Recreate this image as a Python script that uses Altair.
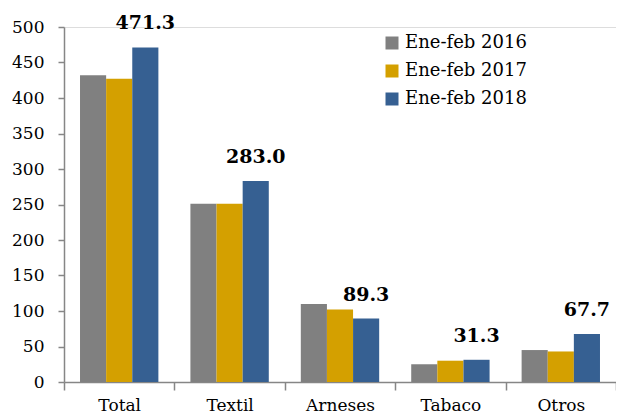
import altair as alt
import pandas as pd

categories = ["Total", "Textil", "Arneses", "Tabaco", "Otros"]
series = ["Ene-feb 2016", "Ene-feb 2017", "Ene-feb 2018"]
v2016 = [432, 251, 110, 25, 45]
v2017 = [427, 251, 102, 30, 43]
v2018 = [471.3, 283.0, 89.3, 31.3, 67.7]
colors = ["#808080", "#D4A000", "#366092"]
y_ticks = [0, 50, 100, 150, 200, 250, 300, 350, 400, 450, 500]

rows = []
for s, vals in zip(series, [v2016, v2017, v2018]):
    for c, v in zip(categories, vals):
        rows.append({"cat": c, "serie": s, "valor": v})
df = pd.DataFrame(rows)

FONT = "DejaVu Serif"
AX = "#868686"

x = alt.X(
    "cat:N", sort=categories, title=None,
    scale=alt.Scale(paddingInner=0, paddingOuter=0),
    axis=alt.Axis(tickBand="extent", labelAngle=0, tickSize=8, domainColor=AX,
                  tickColor=AX, domainWidth=1.5, tickWidth=1.5, labelFontSize=17,
                  labelFont=FONT, labelColor="black", labelPadding=7, grid=False),
)
xo = alt.XOffset("serie:N", sort=series,
                 scale=alt.Scale(domain=series, paddingInner=0, paddingOuter=0.613))
y = alt.Y(
    "valor:Q", title=None,
    scale=alt.Scale(domain=[0, 500], nice=False),
    axis=alt.Axis(values=y_ticks, tickSize=6, domainColor=AX, tickColor=AX,
                  domainWidth=1.5, tickWidth=1.5, labelFontSize=17, labelFont=FONT,
                  labelColor="black", labelPadding=14, grid=False),
)

bars = alt.Chart(df).mark_bar().encode(
    x=x, xOffset=xo, y=y,
    color=alt.Color(
        "serie:N",
        scale=alt.Scale(domain=series, range=colors),
        legend=alt.Legend(orient="none", legendX=319, legendY=7, title=None,
                          symbolType="square", symbolSize=169, symbolStrokeWidth=0,
                          labelFontSize=18, labelFont=FONT, labelColor="black",
                          rowPadding=10, labelOffset=4, padding=0),
    ),
)

labels = alt.Chart(df).transform_filter(
    alt.datum.serie == "Ene-feb 2018"
).mark_text(
    font=FONT, fontSize=19, fontWeight="bold", baseline="alphabetic", dy=-18, color="black"
).encode(
    x=x, xOffset=xo, y=y, text=alt.Text("valor:Q", format=".1f")
)

chart = alt.layer(bars, labels).properties(
    width=552, height=355,
    padding={"left": 56, "top": 19, "right": 0, "bottom": 37},
    autosize=alt.AutoSizeParams(type="none"),
).configure_view(stroke=None).configure(font=FONT)

chart.save("out.html", embed_options={"renderer": "svg", "actions": False})
